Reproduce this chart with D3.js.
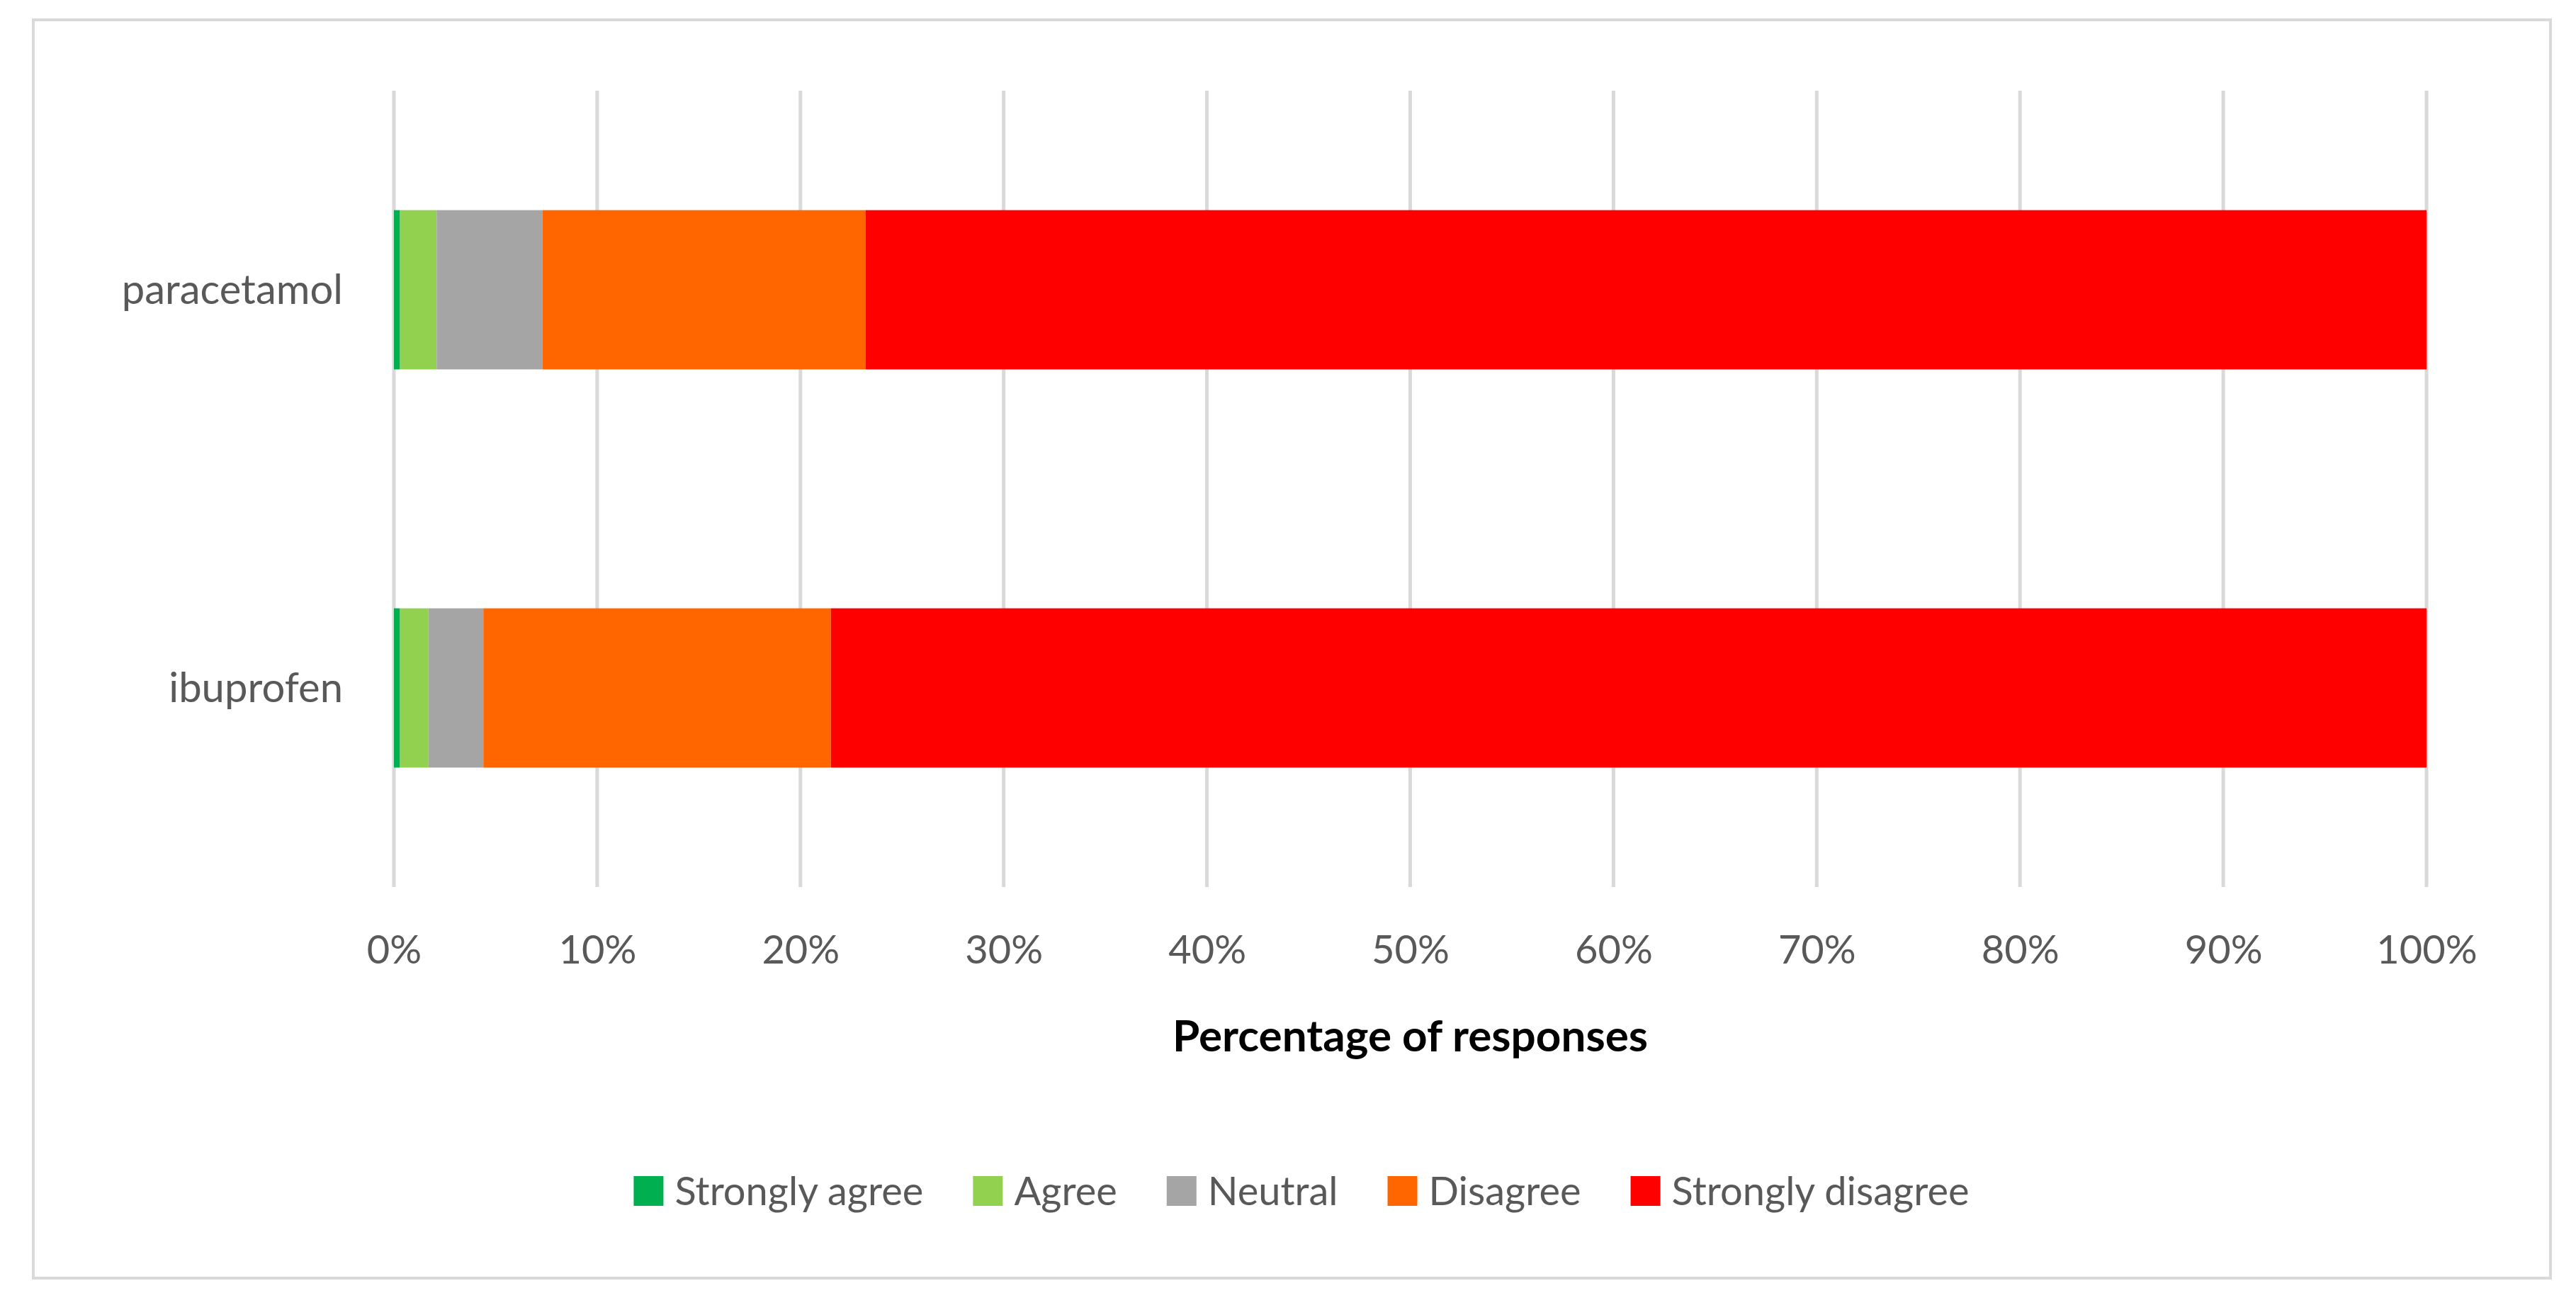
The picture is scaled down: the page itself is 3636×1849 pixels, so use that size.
<!DOCTYPE html>
<html><head><meta charset="utf-8">
<script src="https://cdn.jsdelivr.net/npm/d3@7"></script>
<style>body{margin:0;background:#fff}</style></head>
<body><svg id="c" width="3636" height="1849"></svg>
<script>
const categories = ["paracetamol", "ibuprofen"];
const seriesNames = ["Strongly agree", "Agree", "Neutral", "Disagree", "Strongly disagree"];
const colors = ["#00b050", "#92d050", "#a5a5a5", "#ff6600", "#ff0000"];
const stronglyAgree = [0.3, 0.3];
const agree = [1.8, 1.4];
const neutral = [5.2, 2.7];
const disagree = [15.9, 17.1];
const stronglyDisagree = [76.8, 78.5];
const tickValues = [0,10,20,30,40,50,60,70,80,90,100];

const seriesVals = [stronglyAgree, agree, neutral, disagree, stronglyDisagree];
const rows = categories.map((c,i)=>{const o={cat:c}; seriesNames.forEach((s,j)=>o[s]=seriesVals[j][i]); return o;});
const stack = d3.stack().keys(seriesNames)(rows);

const svg = d3.select("#c");
const font = "Lato, 'Open Sans', sans-serif";
svg.append("rect").attr("x",47).attr("y",28).attr("width",3553).attr("height",1776)
  .attr("fill","#fff").attr("stroke","#d9d9d9").attr("stroke-width",4);

const x = d3.scaleLinear().domain([0,100]).range([556,3425]);
const y = d3.scaleBand().domain(categories).range([128,1252]).paddingInner(0.6).paddingOuter(0.3);

const g = svg.append("g");
g.selectAll("line.grid").data(tickValues).join("line")
  .attr("x1",d=>x(d)).attr("x2",d=>x(d)).attr("y1",128).attr("y2",1252)
  .attr("stroke","#d9d9d9").attr("stroke-width",5);

stack.forEach((s,j)=>{
  g.selectAll(null).data(s).join("rect")
    .attr("x",d=>x(d[0])).attr("width",d=>x(d[1])-x(d[0]))
    .attr("y",d=>y(d.data.cat)).attr("height",y.bandwidth())
    .attr("fill",colors[j]);
});

const xAxis = d3.axisBottom(x).tickValues(tickValues).tickFormat(d=>d+"%").tickSize(0).tickPadding(0);
const ax = svg.append("g").attr("transform","translate(0,1360)").call(xAxis);
ax.select(".domain").remove();
ax.selectAll("text").attr("font-family",font).attr("font-size",56).attr("fill","#595959").attr("dy","0");

const yAxis = d3.axisLeft(y).tickSize(0).tickPadding(0);
const ay = svg.append("g").attr("transform","translate(484,0)").call(yAxis);
ay.select(".domain").remove();
ay.selectAll("text").attr("font-family",font).attr("font-size",58).attr("fill","#595959").attr("dy","0.35em");

svg.append("text").attr("x",x(50)).attr("y",1484).attr("text-anchor","middle")
  .attr("font-family",font).attr("font-size",62).attr("font-weight","bold").attr("fill","#000")
  .text("Percentage of responses");

const lg = svg.append("g");
let cx = 0; const items=[];
seriesNames.forEach((s,j)=>{
  const it = lg.append("g");
  it.append("rect").attr("x",0).attr("y",-21).attr("width",42).attr("height",42).attr("fill",colors[j]);
  const t = it.append("text").attr("x",58).attr("y",0).attr("dy","0.35em").attr("font-family",font)
    .attr("font-size",56).attr("fill","#595959").text(s);
  const w = 58 + t.node().getComputedTextLength();
  it.attr("transform",`translate(${cx},0)`);
  cx += w + 70;
});
const total = cx - 70;
lg.attr("transform",`translate(${1837 - total/2},1681)`);
</script></body></html>
